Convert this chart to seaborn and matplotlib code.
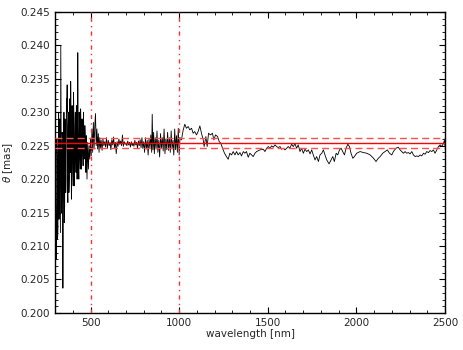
import numpy as np
import pandas as pd
import matplotlib
matplotlib.use("Agg")
import matplotlib.pyplot as plt
import seaborn as sns
from matplotlib.ticker import MultipleLocator, FormatStrFormatter

# noisy short-wavelength part (nm, mas)
wl_blue = [300, 302, 304, 306, 308, 310, 312, 314, 316, 318, 320, 322, 324, 326, 328,
           330, 332, 334, 336, 338, 340, 342, 344, 346, 348, 350, 352, 354, 356, 358,
           360, 362, 364, 366, 368, 370, 372, 374, 376, 378, 380, 382, 384, 386, 388,
           390, 392, 394, 396, 398, 400, 402, 404, 406, 408, 410, 412, 414, 416, 418,
           420, 422, 424, 426, 428, 430, 432, 434, 436, 438, 440, 442, 444, 446, 448,
           450, 452, 454, 456, 458, 460, 462, 464, 466, 468, 470, 472, 474, 476, 478,
           480, 484, 488, 492, 496, 500, 504, 508, 512, 516, 520, 524, 528, 532, 536,
           540, 544, 548]
th_blue = [0.2070, 0.2210, 0.2150, 0.2080, 0.2095, 0.2260, 0.2230, 0.2110, 0.2125, 0.2240,
           0.2300, 0.2140, 0.2180, 0.2290, 0.2210, 0.2120, 0.2400, 0.2280, 0.2150, 0.2190,
           0.2270, 0.2260, 0.2037, 0.2170, 0.2250, 0.2300, 0.2135, 0.2160, 0.2290, 0.2250,
           0.2180, 0.2200, 0.2320, 0.2300, 0.2341, 0.2190, 0.2165, 0.2280, 0.2300, 0.2180,
           0.2200, 0.2320, 0.2280, 0.2210, 0.2346, 0.2290, 0.2170, 0.2230, 0.2310, 0.2270,
           0.2210, 0.2190, 0.2330, 0.2290, 0.2190, 0.2220, 0.2280, 0.2300, 0.2240, 0.2210,
           0.2310, 0.2290, 0.2200, 0.2230, 0.2389, 0.2280, 0.2225, 0.2200, 0.2300, 0.2270,
           0.2230, 0.2215, 0.2305, 0.2285, 0.2215, 0.2235, 0.2290, 0.2275, 0.2240, 0.2220,
           0.2300, 0.2270, 0.2230, 0.2240, 0.2280, 0.2265, 0.2225, 0.2210, 0.2265, 0.2250,
           0.2200, 0.2255, 0.2215, 0.2250, 0.2230, 0.2260, 0.2235, 0.2275, 0.2240, 0.2285,
           0.2245, 0.2280, 0.2298, 0.2250, 0.2275, 0.2245, 0.2268, 0.2240]

# mid part, 550-1005 nm
wl_mid = [552, 556, 560, 565, 570, 575, 580, 585, 590, 595, 600, 605, 610, 615, 620,
          625, 630, 635, 640, 645, 650, 655, 660, 665, 670, 675, 680, 685, 690, 695,
          700, 705, 710, 715, 720, 725, 730, 735, 740, 745, 750, 755, 760, 765, 770,
          775, 780, 785, 790, 795, 800, 805, 810, 815, 820, 825, 830, 835, 840, 845,
          848, 852, 856, 860, 865, 870, 875, 880, 885, 890, 895, 900, 905, 910, 915,
          920, 925, 930, 935, 940, 945, 950, 955, 960, 965, 970, 975, 980, 985, 990,
          995, 1000, 1005]
th_mid = [0.2262, 0.2247, 0.2258, 0.2243, 0.2260, 0.2250, 0.2256, 0.2248, 0.2262, 0.2246,
          0.2258, 0.2250, 0.2255, 0.2244, 0.2259, 0.2251, 0.2263, 0.2247, 0.2255, 0.2238,
          0.2256, 0.2249, 0.2260, 0.2252, 0.2257, 0.2250, 0.2266, 0.2249, 0.2256, 0.2252,
          0.2254, 0.2250, 0.2257, 0.2251, 0.2255, 0.2248, 0.2256, 0.2250, 0.2254, 0.2249,
          0.2258, 0.2251, 0.2255, 0.2246, 0.2257, 0.2250, 0.2259, 0.2247, 0.2262, 0.2246,
          0.2256, 0.2240, 0.2262, 0.2245, 0.2258, 0.2236, 0.2260, 0.2246, 0.2266, 0.2240,
          0.2297, 0.2244, 0.2270, 0.2238, 0.2262, 0.2245, 0.2272, 0.2240, 0.2258, 0.2233,
          0.2268, 0.2246, 0.2262, 0.2242, 0.2275, 0.2238, 0.2260, 0.2244, 0.2270, 0.2243,
          0.2262, 0.2240, 0.2272, 0.2245, 0.2258, 0.2236, 0.2275, 0.2244, 0.2265, 0.2240,
          0.2276, 0.2236, 0.2262]

# smoother long-wavelength part
wl_red = [1013, 1023, 1032, 1041, 1051, 1060, 1070, 1079, 1088, 1098, 1107, 1117, 1126,
          1136, 1141, 1151, 1158, 1166, 1177, 1188, 1196, 1205, 1217, 1226, 1235, 1245,
          1256, 1267, 1277, 1286, 1296, 1305, 1315, 1324, 1333, 1343, 1352, 1362, 1371,
          1380, 1390, 1399, 1409, 1418, 1428, 1437, 1456, 1475, 1484, 1494, 1503, 1513,
          1522, 1531, 1541, 1550, 1560, 1569, 1578, 1588, 1597, 1607, 1616, 1625, 1635,
          1644, 1654, 1663, 1672, 1682, 1691, 1701, 1710, 1720, 1729, 1739, 1748, 1757,
          1767, 1776, 1786, 1795, 1805, 1814, 1823, 1833, 1846, 1857, 1867, 1876, 1886,
          1895, 1905, 1914, 1923, 1933, 1942, 1952, 1961, 1970, 1980, 1989, 2002, 2021,
          2040, 2059, 2078, 2097, 2111, 2124, 2134, 2149, 2162, 2175, 2187, 2200, 2209,
          2224, 2237, 2247, 2256, 2266, 2275, 2284, 2294, 2303, 2313, 2322, 2332, 2341,
          2350, 2360, 2369, 2379, 2388, 2397, 2407, 2416, 2426, 2435, 2444, 2454, 2463,
          2473, 2482, 2492, 2497, 2500]
th_red = [0.22586, 0.22736, 0.22821, 0.22761, 0.22786, 0.22736, 0.22761, 0.22686, 0.22711,
          0.22661, 0.22711, 0.22796, 0.22686, 0.22586, 0.22487, 0.22636, 0.22487, 0.22686,
          0.22661, 0.22686, 0.22586, 0.22661, 0.22636, 0.22561, 0.22537, 0.22462, 0.22387,
          0.22337, 0.22297, 0.22387, 0.22362, 0.22412, 0.22362, 0.22412, 0.22362, 0.22397,
          0.22347, 0.22412, 0.22387, 0.22412, 0.22327, 0.22387, 0.22362, 0.22337, 0.22387,
          0.22412, 0.22437, 0.22447, 0.22412, 0.22462, 0.22487, 0.22462, 0.22497, 0.22477,
          0.22512, 0.22487, 0.22472, 0.22487, 0.22447, 0.22462, 0.22437, 0.22462, 0.22487,
          0.22462, 0.22522, 0.22487, 0.22527, 0.22462, 0.22512, 0.22412, 0.22462, 0.22387,
          0.22447, 0.22412, 0.22437, 0.22377, 0.22437, 0.22362, 0.22287, 0.22337, 0.22263,
          0.22362, 0.22387, 0.22437, 0.22362, 0.22287, 0.22228, 0.22287, 0.22337, 0.22263,
          0.22387, 0.22362, 0.22437, 0.22462, 0.22412, 0.22362, 0.22462, 0.22522, 0.22487,
          0.22387, 0.22312, 0.22337, 0.22387, 0.22412, 0.22397, 0.22387, 0.22362, 0.22312,
          0.22263, 0.22312, 0.22337, 0.22387, 0.22412, 0.22437, 0.22387, 0.22362, 0.22412,
          0.22462, 0.22477, 0.22437, 0.22412, 0.22387, 0.22412, 0.22387, 0.22397, 0.22377,
          0.22412, 0.22362, 0.22337, 0.22347, 0.22337, 0.22362, 0.22347, 0.22387, 0.22372,
          0.22412, 0.22397, 0.22427, 0.22412, 0.22437, 0.22387, 0.22437, 0.22487, 0.22512,
          0.22487, 0.22537, 0.22580, 0.22500]

theta_mean = 0.22537
theta_err = 0.00075
wl_marks = [500, 1000]

sns.set_style("ticks")
plt.rcParams["font.family"] = ["DejaVu Sans"]
plt.rcParams["font.size"] = 7.5

df = pd.DataFrame({"wavelength": wl_blue + wl_mid + wl_red,
                   "theta": th_blue + th_mid + th_red})

fig = plt.figure(figsize=(4.63, 3.5), dpi=100)
ax = fig.add_axes([0.119, 0.106, 0.842, 0.860])

sns.lineplot(data=df, x="wavelength", y="theta", color="black", lw=0.6,
             estimator=None, sort=False, ax=ax)

# mean and +/- 1 sigma, drawn on top of the curve
ax.axhline(theta_mean, color="red", lw=1.0, zorder=4)
for v in (theta_mean - theta_err, theta_mean + theta_err):
    ax.axhline(v, color="#ff5050", lw=1.0, ls=(0, (5, 3)), zorder=4)
for w in wl_marks:
    ax.axvline(w, color="#ff3030", lw=1.0, ls=(0, (3, 3, 1, 3)), zorder=4)

ax.set_xlim(300, 2500)
ax.set_ylim(0.200, 0.245)
ax.xaxis.set_major_locator(MultipleLocator(500))
ax.xaxis.set_minor_locator(MultipleLocator(100))
ax.yaxis.set_major_locator(MultipleLocator(0.005))
ax.yaxis.set_minor_locator(MultipleLocator(0.001))
ax.yaxis.set_major_formatter(FormatStrFormatter("%.3f"))
ax.tick_params(which="both", direction="in", top=True, right=True, color="black")
ax.tick_params(which="major", length=4.5, width=0.8, labelsize=7.5)
ax.tick_params(which="minor", length=2.2, width=0.6)
for s in ax.spines.values():
    s.set_color("black")
    s.set_linewidth(1.0)

ax.set_xlabel("wavelength [nm]", fontsize=7.5, labelpad=1)
ax.set_ylabel(r"$\theta$ [mas]", fontsize=7.5, labelpad=4)

fig.savefig("out.png", dpi=100)
